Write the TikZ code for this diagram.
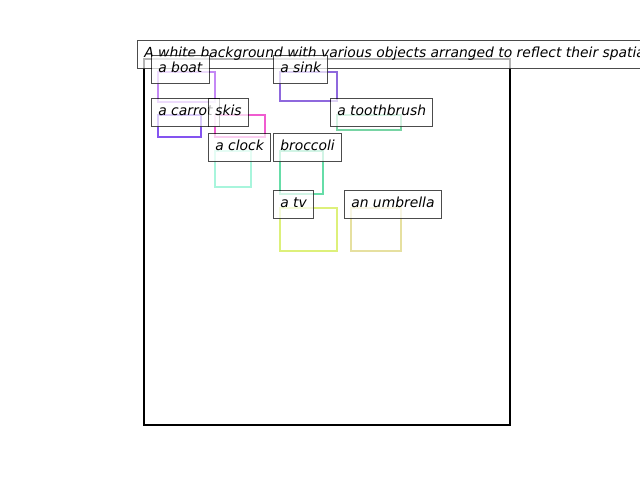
\documentclass[tikz,border=0pt]{standalone}
\usepackage{fontspec}
\setmainfont{DejaVu Sans}
\definecolor{cboat}{HTML}{C488F5}
\definecolor{csink}{HTML}{8E68DD}
\definecolor{ccarrot}{HTML}{8454F0}
\definecolor{cskis}{HTML}{F05CD0}
\definecolor{cclock}{HTML}{A8F5DC}
\definecolor{cbroc}{HTML}{66DDA8}
\definecolor{ctooth}{HTML}{78D4A4}
\definecolor{ctv}{HTML}{DDF07A}
\definecolor{cumb}{HTML}{E6E0A0}
\tikzset{
  objbox/.style={line width=1.7pt},
  lbl/.style={anchor=north west, draw=black, fill=white, fill opacity=0.7, draw opacity=0.7, text opacity=1,
    line width=0.75pt, inner xsep=5.1pt, inner ysep=0pt, minimum height=21pt,
    text height=7.9pt, text depth=2.8pt,
    font=\fontsize{10.4pt}{12pt}\selectfont\itshape},
  frame/.style={line width=1.5pt, draw=black}
}
\begin{document}
\begin{tikzpicture}[x=0.75pt,y=-0.75pt]
\useasboundingbox (0,0) rectangle (640,480);
\draw[frame] (144,59) rectangle (510,425);
% object rectangles
\draw[objbox, cboat] (158,72) rectangle (215,102);
\draw[objbox, csink] (280,72) rectangle (337,101);
\draw[objbox, ccarrot] (158,115) rectangle (201,137);
\draw[objbox, cskis] (215,115) rectangle (265,137);
\draw[objbox, ctooth] (337,115) rectangle (401,130);
\draw[objbox, cclock] (215,151) rectangle (251,187);
\draw[objbox, cbroc] (280,151) rectangle (323,194);
\draw[objbox, ctv] (280,208) rectangle (337,251);
\draw[objbox, cumb] (351,208) rectangle (401,251);
% title
\node[lbl] (title) at (137,40) {A white background with various objects arranged to reflect their spatial};
% labels
\node[lbl] (boat) at (151,55) {a boat};
\node[lbl] (sink) at (273,55) {a sink};
\node[lbl] (carrot) at (151,98) {a carrot};
\node[lbl] (skis) at (208,98) {skis};
\node[lbl] (toothbrush) at (330,98) {a toothbrush};
\node[lbl] (clock) at (208,133) {a clock};
\node[lbl] (broccoli) at (273,133) {broccoli};
\node[lbl] (tv) at (273,190) {a tv};
\node[lbl] (umbrella) at (344,190) {an umbrella};
\end{tikzpicture}
\end{document}
